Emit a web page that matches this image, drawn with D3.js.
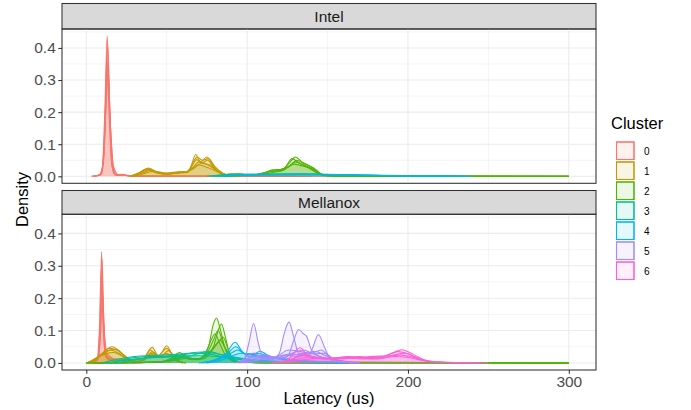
<!DOCTYPE html>
<html>
<head>
<meta charset="utf-8">
<script src="https://cdn.jsdelivr.net/npm/d3@7"></script>
<style>
  body { margin: 0; background: #fff; }
  text { font-family: "Liberation Sans", Arial, sans-serif; }
</style>
</head>
<body>
<div id="chart"></div>
<script>
// density curves, [latency, density] pairs
const clusters = ["0", "1", "2", "3", "4", "5", "6"];
const facets = ["Intel", "Mellanox"];
const xTicks = [0, 100, 200, 300];
const yTicks = [0, 0.1, 0.2, 0.3, 0.4];

const intelCurves = [
  {c: "0", pts: [[3,0],[8,0.004],[10,0.03],[11.5,0.2],[13,0.437],[14.5,0.2],[16,0.03],[18,0.004],[22,0.006],[26,0.001],[40,0],[150,0]]},
  {c: "0", pts: [[4,0],[8.5,0.003],[10.5,0.04],[12,0.22],[13.3,0.41],[14.7,0.2],[16.3,0.03],[19,0.003],[23,0.005],[28,0],[140,0]]},
  {c: "0", pts: [[4,0],[9,0.005],[10.5,0.05],[11.8,0.2],[12.8,0.38],[14,0.22],[15.8,0.04],[18,0.005],[24,0.004],[30,0],[130,0]]},
  {c: "0", pts: [[5,0],[9,0.006],[10.8,0.06],[12.2,0.22],[13.4,0.35],[14.8,0.18],[16.6,0.03],[19,0.004],[25,0.003],[30,0],[120,0]]},
  {c: "0", pts: [[5,0],[9.5,0.008],[11,0.07],[12.5,0.24],[13.6,0.32],[15,0.16],[17,0.03],[20,0.005],[26,0.002],[32,0],[110,0]]},
  {c: "1", pts: [[27,0],[32,0.008],[38,0.024],[44,0.01],[50,0.006],[56,0.012],[62,0.012],[65,0.03],[68,0.068],[71,0.045],[75,0.06],[78,0.04],[82,0.015],[88,0.004],[95,0]]},
  {c: "1", pts: [[28,0],[33,0.01],[39,0.02],[45,0.012],[52,0.008],[58,0.013],[63,0.014],[66,0.04],[69,0.06],[72,0.05],[76,0.055],[80,0.03],[85,0.01],[92,0]]},
  {c: "1", pts: [[28,0],[34,0.012],[38.5,0.026],[44,0.013],[51,0.007],[58,0.011],[63,0.012],[66,0.035],[68.5,0.052],[72,0.042],[75.5,0.05],[79,0.03],[84,0.01],[90,0]]},
  {c: "1", pts: [[29,0],[35,0.01],[40,0.018],[46,0.01],[53,0.009],[60,0.012],[65,0.02],[70,0.045],[74,0.04],[78,0.028],[83,0.012],[90,0]]},
  {c: "1", pts: [[30,0],[36,0.008],[41,0.015],[47,0.008],[55,0.01],[62,0.014],[67,0.03],[72,0.04],[77,0.035],[82,0.015],[88,0.003],[94,0]]},
  {c: "1", pts: [[27,0],[33,0.012],[37,0.022],[43,0.016],[50,0.01],[57,0.014],[63,0.016],[67,0.025],[70,0.035],[74,0.03],[79,0.02],[85,0.006],[92,0]]},
  {c: "2", pts: [[80,0],[88,0.006],[95,0.008],[102,0.003],[110,0.01],[116,0.02],[122,0.022],[126,0.04],[130,0.06],[134,0.045],[139,0.032],[143,0.02],[147,0.004],[155,0.001],[300,0]]},
  {c: "2", pts: [[82,0],[90,0.007],[97,0.006],[104,0.004],[111,0.012],[117,0.018],[123,0.025],[128,0.055],[132,0.042],[137,0.03],[142,0.015],[147,0.003],[160,0],[300,0]]},
  {c: "2", pts: [[84,0],[92,0.005],[100,0.004],[108,0.006],[114,0.016],[120,0.02],[126,0.03],[131,0.05],[135,0.04],[140,0.028],[145,0.01],[150,0.002],[300,0]]},
  {c: "2", pts: [[85,0],[95,0.004],[106,0.005],[114,0.014],[121,0.018],[127,0.035],[130,0.045],[135,0.035],[141,0.022],[146,0.006],[155,0],[300,0]]},
  {c: "2", pts: [[86,0],[96,0.003],[108,0.006],[116,0.012],[123,0.02],[129,0.038],[133,0.034],[139,0.025],[144,0.01],[150,0.001],[300,0]]},
  {c: "3", pts: [[75,0],[90,0.006],[110,0.007],[130,0.008],[150,0.006],[170,0.004],[190,0.002],[215,0.0005],[230,0]]},
  {c: "3", pts: [[78,0],[95,0.005],[115,0.006],[135,0.007],[155,0.005],[175,0.003],[200,0.001],[225,0]]},
  {c: "4", pts: [[80,0],[100,0.005],[130,0.007],[160,0.005],[185,0.003],[210,0.001],[240,0]]},
  {c: "4", pts: [[85,0],[105,0.004],[135,0.005],[165,0.004],[190,0.002],[215,0.0005],[235,0]]}
];

const mellanoxCurves = [
  {c: "0", pts: [[4,0],[7,0.01],[8.5,0.12],[9.5,0.343],[10.5,0.15],[12,0.02],[15,0.008],[20,0.01],[25,0.005],[30,0]]},
  {c: "0", pts: [[4,0],[7.3,0.012],[8.8,0.12],[9.8,0.32],[10.9,0.13],[12.4,0.02],[16,0.006],[21,0.009],[26,0.004],[32,0]]},
  {c: "0", pts: [[3,0],[6.8,0.014],[8.2,0.11],[9.3,0.29],[10.4,0.12],[12,0.025],[15,0.01],[19,0.012],[24,0.006],[30,0]]},
  {c: "0", pts: [[3,0],[7,0.015],[8.6,0.1],[9.7,0.25],[10.8,0.11],[12.5,0.025],[17,0.01],[22,0.008],[28,0.003],[34,0]]},
  {c: "0", pts: [[3,0],[7.5,0.016],[9,0.1],[10,0.22],[11.2,0.1],[13,0.03],[18,0.012],[23,0.01],[29,0.003],[35,0]]},
  {c: "1", pts: [[0,0],[5,0.01],[10,0.03],[16,0.05],[21,0.035],[26,0.01],[30,0.002],[35,0.01],[41,0.048],[45,0.02],[50,0.053],[54,0.02],[58,0.003],[62,0]]},
  {c: "1", pts: [[0,0],[6,0.012],[11,0.032],[15,0.04],[20,0.03],[25,0.012],[30,0.003],[36,0.012],[40,0.04],[44,0.02],[50,0.045],[55,0.015],[60,0]]},
  {c: "1", pts: [[1,0],[8,0.02],[14,0.045],[19,0.04],[24,0.02],[30,0.004],[36,0.008],[41,0.035],[46,0.02],[51,0.038],[56,0.01],[60,0]]},
  {c: "1", pts: [[1,0],[6,0.015],[12,0.028],[17,0.032],[22,0.022],[28,0.008],[34,0.006],[40,0.028],[45,0.018],[50,0.03],[55,0.01],[60,0]]},
  {c: "1", pts: [[2,0],[8,0.018],[13,0.036],[18,0.042],[23,0.026],[28,0.01],[35,0.01],[41,0.03],[47,0.016],[52,0.024],[58,0.005],[62,0]]},
  {c: "3", pts: [[10,0],[20,0.012],[30,0.02],[45,0.024],[60,0.028],[72,0.034],[80,0.03],[90,0.02],[100,0.012],[115,0.006],[140,0.002],[170,0]]},
  {c: "3", pts: [[15,0],[28,0.015],[40,0.02],[55,0.022],[68,0.03],[78,0.026],[88,0.015],[100,0.008],[130,0.002],[160,0]]},
  {c: "3", pts: [[12,0],[25,0.01],[38,0.016],[52,0.019],[66,0.024],[76,0.036],[84,0.025],[95,0.014],[110,0.006],[150,0]]},
  {c: "3", pts: [[18,0],[30,0.01],[44,0.018],[58,0.02],[70,0.022],[82,0.02],[94,0.012],[110,0.005],[145,0]]},
  {c: "2", pts: [[0,0],[20,0.001],[45,0.003],[53,0.015],[58,0.032],[63,0.015],[70,0.01],[76,0.05],[79,0.12],[81,0.139],[83,0.11],[86,0.05],[90,0.012],[95,0.002],[120,0],[300,0]]},
  {c: "2", pts: [[0,0],[25,0.001],[48,0.004],[55,0.015],[60,0.025],[65,0.012],[72,0.012],[79,0.05],[82,0.1],[84,0.12],[86.5,0.08],[89,0.03],[93,0.006],[110,0],[300,0]]},
  {c: "2", pts: [[0,0],[30,0.001],[50,0.005],[57,0.02],[62,0.02],[68,0.01],[75,0.03],[79,0.07],[82,0.1],[84.5,0.07],[88,0.025],[92,0.005],[110,0],[300,0]]},
  {c: "2", pts: [[5,0],[35,0.001],[52,0.006],[59,0.018],[64,0.012],[70,0.012],[75,0.04],[78,0.075],[80,0.09],[83,0.06],[87,0.02],[93,0.003],[300,0]]},
  {c: "2", pts: [[5,0],[40,0.002],[54,0.008],[60,0.016],[66,0.01],[74,0.02],[80,0.05],[83,0.07],[85,0.08],[88,0.045],[91,0.015],[96,0.002],[300,0]]},
  {c: "2", pts: [[8,0],[45,0.002],[56,0.01],[62,0.014],[70,0.014],[77,0.035],[81,0.06],[83,0.07],[86,0.05],[90,0.02],[95,0.004],[300,0]]},
  {c: "4", pts: [[70,0],[80,0.01],[87,0.03],[92.5,0.064],[97,0.035],[102,0.02],[108,0.036],[114,0.02],[125,0.01],[140,0.004],[160,0]]},
  {c: "4", pts: [[72,0],[82,0.012],[88,0.03],[93,0.05],[98,0.03],[105,0.025],[112,0.02],[125,0.012],[145,0.004],[165,0]]},
  {c: "4", pts: [[74,0],[84,0.014],[90,0.03],[94,0.04],[99,0.028],[106,0.03],[113,0.022],[124,0.01],[140,0.003],[160,0]]},
  {c: "4", pts: [[75,0],[85,0.01],[91,0.022],[96,0.03],[102,0.025],[110,0.02],[120,0.012],[135,0.005],[155,0]]},
  {c: "5", pts: [[92,0],[98,0.01],[101,0.06],[104,0.122],[107,0.06],[110,0.015],[115,0.01],[120,0.03],[123,0.09],[126,0.126],[129,0.08],[132,0.03],[138,0.02],[141,0.05],[144.3,0.088],[148,0.05],[152,0.01],[160,0.002],[170,0]]},
  {c: "5", pts: [[95,0],[105,0.02],[112,0.025],[118,0.015],[125,0.02],[129,0.07],[132,0.103],[135,0.09],[137,0.082],[140,0.04],[145,0.02],[155,0.01],[170,0]]},
  {c: "5", pts: [[95,0],[104,0.03],[110,0.015],[118,0.02],[126,0.04],[133,0.035],[140,0.03],[146,0.04],[152,0.015],[165,0]]},
  {c: "5", pts: [[96,0],[106,0.015],[114,0.02],[121,0.012],[128,0.03],[135,0.04],[142,0.028],[148,0.03],[155,0.01],[168,0]]},
  {c: "5", pts: [[98,0],[108,0.01],[116,0.016],[124,0.025],[131,0.02],[138,0.034],[145,0.02],[152,0.012],[165,0]]},
  {c: "5", pts: [[97,0],[103,0.02],[111,0.012],[120,0.018],[127,0.028],[134,0.024],[142,0.036],[149,0.022],[158,0.006],[170,0]]},
  {c: "6", pts: [[115,0],[125,0.01],[133,0.047],[138,0.02],[148,0.012],[160,0.015],[170,0.02],[180,0.015],[190,0.03],[196,0.041],[202,0.03],[210,0.01],[220,0.002],[250,0]]},
  {c: "6", pts: [[118,0],[128,0.012],[135,0.03],[142,0.015],[152,0.014],[163,0.02],[173,0.016],[183,0.018],[194,0.035],[200,0.028],[208,0.01],[218,0.002],[245,0]]},
  {c: "6", pts: [[120,0],[130,0.015],[137,0.025],[145,0.014],[156,0.016],[166,0.014],[177,0.02],[188,0.022],[198,0.03],[205,0.018],[213,0.005],[240,0]]},
  {c: "6", pts: [[122,0],[132,0.012],[140,0.02],[150,0.012],[160,0.018],[172,0.012],[184,0.016],[195,0.025],[203,0.018],[212,0.006],[235,0]]},
  {c: "6", pts: [[125,0],[135,0.01],[145,0.014],[157,0.012],[168,0.016],[180,0.012],[192,0.02],[201,0.016],[210,0.006],[230,0]]}
];

const palette = ["#F8766D", "#C49A00", "#53B400", "#00C094", "#00B6EB", "#A58AFF", "#FB61D7"];

const width = 691, height = 410;
const panelLeft = 62, panelRight = 596;
const panels = [
  {name: facets[0], curves: intelCurves, stripTop: 3.5, top: 29, bottom: 183.3},
  {name: facets[1], curves: mellanoxCurves, stripTop: 190.5, top: 214.3, bottom: 370}
];

const color = d3.scaleOrdinal().domain(clusters).range(palette);

const x = d3.scaleLinear().domain([-15.1, 316.9]).range([panelLeft, panelRight]);

const svg = d3.select("#chart").append("svg")
    .attr("width", width)
    .attr("height", height)
    .attr("viewBox", [0, 0, width, height]);

// sort curves so they draw in cluster order like ggplot groups
const order = c => clusters.indexOf(c);

panels.forEach((p, i) => {
    const y = d3.scaleLinear().domain([-0.0218, 0.459]).range([p.bottom, p.top]);
    const g = svg.append("g");

    // strip
    g.append("rect")
        .attr("x", panelLeft).attr("y", p.stripTop)
        .attr("width", panelRight - panelLeft).attr("height", p.top - p.stripTop)
        .attr("fill", "#D9D9D9").attr("stroke", "#333333").attr("stroke-width", 1.07);
    g.append("text")
        .attr("x", (panelLeft + panelRight) / 2)
        .attr("y", (p.stripTop + p.top) / 2)
        .attr("dy", "0.35em")
        .attr("text-anchor", "middle")
        .attr("font-size", 15.5)
        .attr("fill", "#1A1A1A")
        .text(p.name);

    // grid
    const grid = g.append("g").attr("stroke", "#EBEBEB");
    grid.selectAll(".minx").data([50, 150, 250]).join("line")
        .attr("x1", d => x(d)).attr("x2", d => x(d))
        .attr("y1", p.top).attr("y2", p.bottom).attr("stroke-width", 0.53);
    grid.selectAll(".miny").data([0.05, 0.15, 0.25, 0.35, 0.45]).join("line")
        .attr("y1", d => y(d)).attr("y2", d => y(d))
        .attr("x1", panelLeft).attr("x2", panelRight).attr("stroke-width", 0.53);
    grid.selectAll(".majx").data(xTicks).join("line")
        .attr("x1", d => x(d)).attr("x2", d => x(d))
        .attr("y1", p.top).attr("y2", p.bottom).attr("stroke-width", 1.07);
    grid.selectAll(".majy").data(yTicks).join("line")
        .attr("y1", d => y(d)).attr("y2", d => y(d))
        .attr("x1", panelLeft).attr("x2", panelRight).attr("stroke-width", 1.07);

    // densities
    const area = d3.area()
        .curve(d3.curveMonotoneX)
        .x(d => x(d[0]))
        .y0(y(0))
        .y1(d => y(d[1]));
    const line = d3.line()
        .curve(d3.curveMonotoneX)
        .x(d => x(d[0]))
        .y(d => y(d[1]));

    const curves = p.curves.slice().sort((a, b) => order(a.c) - order(b.c));
    const marks = g.append("g")
        .selectAll("g")
        .data(curves)
        .join("g");
    marks.append("path")
        .attr("d", d => area(d.pts))
        .attr("fill", d => color(d.c))
        .attr("fill-opacity", 0.1);
    marks.append("path")
        .attr("d", d => line(d.pts))
        .attr("fill", "none")
        .attr("stroke", d => color(d.c))
        .attr("stroke-width", 1.07);

    // border
    g.append("rect")
        .attr("x", panelLeft).attr("y", p.top)
        .attr("width", panelRight - panelLeft).attr("height", p.bottom - p.top)
        .attr("fill", "none").attr("stroke", "#333333").attr("stroke-width", 1.07);

    // y axis
    const ya = g.append("g")
        .attr("transform", `translate(${panelLeft},0)`)
        .call(d3.axisLeft(y).tickValues(yTicks).tickFormat(d3.format(".1f")).tickSize(3.7).tickPadding(2.5))
        .call(g => g.select(".domain").remove());
    ya.selectAll(".tick line").attr("stroke", "#333333").attr("stroke-width", 1.07);
    ya.selectAll(".tick text").attr("fill", "#4D4D4D").attr("font-size", 15.5)
        .attr("font-family", "Liberation Sans, Arial, sans-serif");

    if (i === 1) {
        const xa = g.append("g")
            .attr("transform", `translate(0,${p.bottom})`)
            .call(d3.axisBottom(x).tickValues(xTicks).tickSize(3.7).tickPadding(2.5))
            .call(g => g.select(".domain").remove());
        xa.selectAll(".tick line").attr("stroke", "#333333").attr("stroke-width", 1.07);
        xa.selectAll(".tick text").attr("fill", "#4D4D4D").attr("font-size", 15.5)
            .attr("font-family", "Liberation Sans, Arial, sans-serif");
    }
});

// axis titles
svg.append("text")
    .attr("x", (panelLeft + panelRight) / 2)
    .attr("y", 404)
    .attr("text-anchor", "middle")
    .attr("font-size", 16.5)
    .attr("fill", "#000")
    .text("Latency (us)");

svg.append("text")
    .attr("transform", `translate(28,${(29 + 370) / 2}) rotate(-90)`)
    .attr("text-anchor", "middle")
    .attr("font-size", 16.5)
    .attr("fill", "#000")
    .text("Density");

// legend
const legend = svg.append("g").attr("transform", "translate(611,0)");
legend.append("text")
    .attr("x", 0).attr("y", 129)
    .attr("font-size", 16.5)
    .attr("fill", "#000")
    .text("Cluster");

const keys = legend.selectAll(".key")
    .data(clusters)
    .join("g")
    .attr("transform", (d, i) => `translate(0,${142 + i * 20})`);
keys.append("rect")
    .attr("x", 5.5).attr("y", 0)
    .attr("width", 17.5).attr("height", 17.5)
    .attr("fill", d => color(d)).attr("fill-opacity", 0.1)
    .attr("stroke", d => color(d)).attr("stroke-width", 1.07);
keys.append("rect")
    .attr("x", 5.5).attr("y", 0)
    .attr("width", 17.5).attr("height", 17.5)
    .attr("fill", "none")
    .attr("stroke", d => color(d)).attr("stroke-width", 1.07);
keys.append("text")
    .attr("x", 33).attr("y", 9)
    .attr("dy", "0.35em")
    .attr("font-size", 10)
    .attr("fill", "#000")
    .text(d => d);
</script>
</body>
</html>
